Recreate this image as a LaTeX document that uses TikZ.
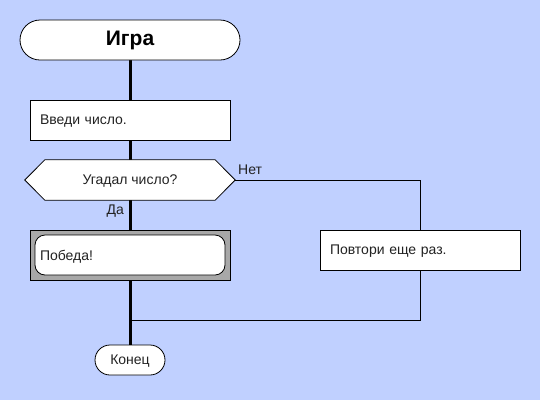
\documentclass[tikz,border=0pt]{standalone}
\usepackage{fontspec}
\setmainfont{Liberation Sans}
\usetikzlibrary{calc}
\definecolor{bg}{HTML}{C0D0FF}
\definecolor{txt}{HTML}{222222}
\definecolor{shadegray}{HTML}{A8A8A8}
\begin{document}
\begin{tikzpicture}[x=1pt,y=-1pt,
  every node/.style={font=\fontsize{14}{16}\selectfont, text=txt},
  term/.style={draw=black, fill=white, line width=0.8pt, inner sep=0pt},
  procbox/.style={draw=black, fill=white, line width=0.8pt, minimum height=40pt, text width=180pt, inner xsep=10pt, inner ysep=0pt, align=left, text depth=0pt},
  thickline/.style={line width=3pt},
  thinline/.style={line width=1pt},
  lbl/.style={inner sep=0pt}
]
\fill[bg] (0,0) rectangle (540,400);
\useasboundingbox (0,0) rectangle (540,400);
% lines first (below nodes)
\coordinate (sc) at (130,40);
\coordinate (ic) at (130,120);
\coordinate (qc) at (130,180);
\coordinate (wc) at (130,255);
\coordinate (ec) at (130,360);
\coordinate (rc) at (420,250);
\coordinate (join) at (130,320);
\draw[thickline] (sc) -- (ec);
% nodes
\node[term, rounded corners=20pt, minimum width=220pt, minimum height=40pt, font=\bfseries\fontsize{21}{24}\selectfont, text=black] (start) at (sc) {Игра};
\node[procbox] (input) at (ic) {Введи число.};
\node[minimum width=210pt, minimum height=40pt, inner sep=0pt] (q) at (qc) {};
\draw[fill=white, line width=0.8pt] (q.west) -- ([xshift=20pt]q.north west) -- ([xshift=-20pt]q.north east) -- (q.east) -- ([xshift=-20pt]q.south east) -- ([xshift=20pt]q.south west) -- cycle;
\node[text depth=0pt] at (q.center) {Угадал число?};
\node[draw=black, fill=shadegray, line width=0.8pt, minimum width=200pt, minimum height=50pt, inner sep=0pt] (win) at (wc) {};
\node[draw=black, fill=white, line width=0.8pt, rounded corners=10pt, minimum width=190pt, minimum height=40pt, text width=180pt, inner xsep=5pt, inner ysep=0pt, align=left, text depth=0pt] (winin) at (wc) {Победа!};
\node[procbox] (retry) at (rc) {Повтори еще раз.};
\node[term, rounded corners=15pt, minimum width=70pt, minimum height=30pt, text depth=0pt] (end) at (ec) {Конец};
% connectors
\draw[thinline] (q.east) -| (retry.north);
\draw[thinline] (retry.south) |- ([xshift=1.5pt]join);
\node[lbl, anchor=west] (no) at (238,170) {Нет};
\node[lbl, anchor=east] (yes) at (124,211) {Да};
\end{tikzpicture}
\end{document}
